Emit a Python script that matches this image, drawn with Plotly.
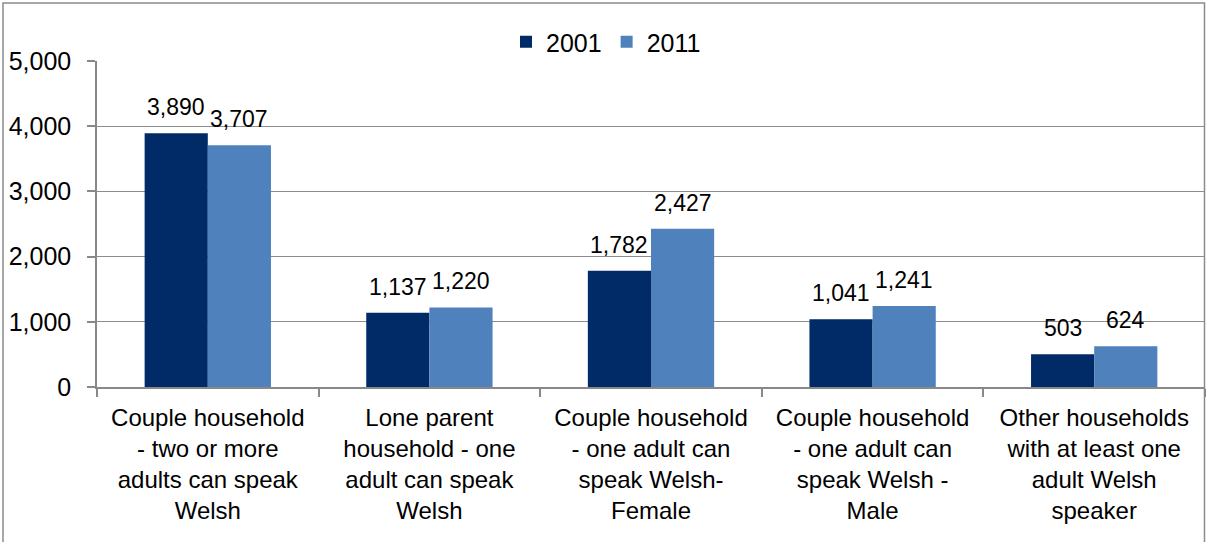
import plotly.graph_objects as go

categories = [
    "Couple household<br>- two or more<br>adults can speak<br>Welsh",
    "Lone parent<br>household - one<br>adult can speak<br>Welsh",
    "Couple household<br>- one adult can<br>speak Welsh-<br>Female",
    "Couple household<br>- one adult can<br>speak Welsh -<br>Male",
    "Other households<br>with at least one<br>adult Welsh<br>speaker",
]
values_2001 = [3890, 1137, 1782, 1041, 503]
values_2011 = [3707, 1220, 2427, 1241, 624]
series_names = ["2001", "2011"]
colors = ["#002B66", "#4F81BD"]

FONT = "Liberation Sans, Arial, sans-serif"
W, H = 1206, 542
L, T = 97, 61
R = W - 1205
B = H - 387
pw, ph = W - L - R, H - T - B
BARGAP = 0.43
bar_px = pw / len(categories) * (1 - BARGAP) / 2

fig = go.Figure()
for name, vals, col in zip(series_names, [values_2001, values_2011], colors):
    fig.add_trace(go.Bar(
        x=categories, y=vals, name=name, marker_color=col,
        marker_line_width=0, cliponaxis=False, hoverinfo="skip",
    ))

# data labels above bars
for vals, sgn in zip([values_2001, values_2011], [-1, 1]):
    for c, v in zip(categories, vals):
        fig.add_annotation(
            x=c, y=v, xref="x", yref="y", text=f"{v:,}", showarrow=False,
            xanchor="center", yanchor="bottom", xshift=sgn * bar_px / 2, yshift=11,
            font=dict(size=23, color="black", family=FONT),
        )

fig.update_layout(
    width=W, height=H,
    margin=dict(l=L, r=R, t=T, b=B, pad=0),
    paper_bgcolor="white", plot_bgcolor="white",
    font=dict(family=FONT, size=24, color="black"),
    barmode="group", bargap=BARGAP, bargroupgap=0,
    showlegend=True,
    legend=dict(orientation="h", x=(606 - L) / pw, xanchor="center",
                y=(H - B - 42) / ph, yanchor="middle",
                font=dict(size=25, family=FONT), traceorder="normal",
                bgcolor="rgba(0,0,0,0)"),
)

fig.update_xaxes(
    showline=True, linecolor="#888888", linewidth=1.5,
    ticks="outside", tickson="boundaries", ticklen=8, tickcolor="#888888", tickwidth=1.5,
    tickfont=dict(size=24, color="black", family=FONT), showgrid=False,
    ticklabelstandoff=8,
)
fig.update_yaxes(
    range=[0, 5000], dtick=1000, tickformat=",",
    showline=True, linecolor="#888888", linewidth=1.5,
    ticks="outside", ticklen=8, tickcolor="#888888", tickwidth=1.5,
    showgrid=True, gridcolor="#8C8C8C", gridwidth=1.2,
    tickfont=dict(size=25, color="black", family=FONT), zeroline=False,
    ticklabelstandoff=11,
)

# outer chart frame
fig.add_shape(type="rect", xref="paper", yref="paper",
              x0=(3 - L) / pw, x1=(1204.5 - L) / pw,
              y0=(H - B - (H + 10)) / ph, y1=(H - B - 3) / ph,
              line=dict(color="#8C8C8C", width=1.5), fillcolor="rgba(0,0,0,0)", layer="below")

fig.write_html("out.html", config={"displayModeBar": False},
               post_script="document.body.style.margin='0px';")
